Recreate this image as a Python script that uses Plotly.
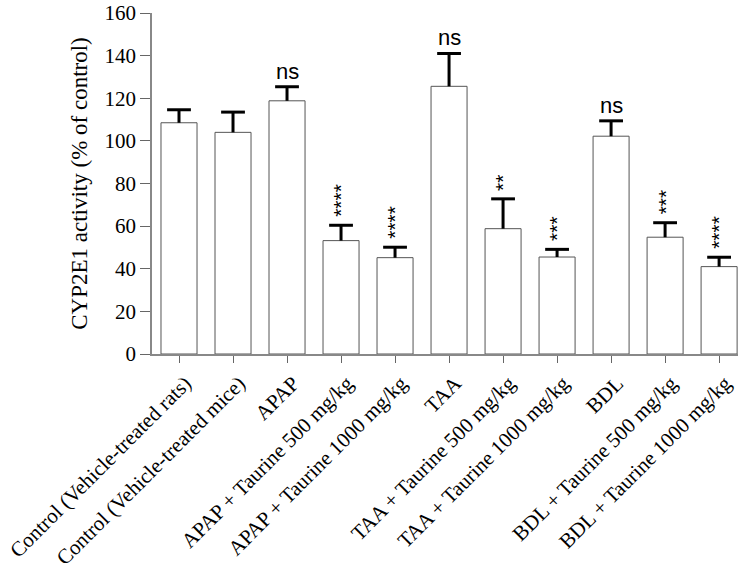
import plotly.graph_objects as go

categories = [
    "Control (Vehicle-treated rats)",
    "Control (Vehicle-treated mice)",
    "APAP",
    "APAP + Taurine 500 mg/kg",
    "APAP + Taurine 1000 mg/kg",
    "TAA",
    "TAA + Taurine 500 mg/kg",
    "TAA + Taurine 1000 mg/kg",
    "BDL",
    "BDL + Taurine 500 mg/kg",
    "BDL + Taurine 1000 mg/kg",
]
values = [108.5, 104.0, 118.8, 53.2, 45.2, 125.6, 58.8, 45.5, 102.2, 54.8, 41.0]
errors = [6.1, 9.5, 6.6, 7.2, 4.9, 15.4, 14.0, 3.6, 7.2, 6.8, 4.4]
signif = ["", "", "ns", "****", "****", "ns", "**", "***", "ns", "***", "****"]
yticks = [0, 20, 40, 60, 80, 100, 120, 140, 160]

idx = list(range(len(categories)))
tops = [v + e for v, e in zip(values, errors)]

fig = go.Figure()
fig.add_trace(go.Bar(
    x=idx, y=values, width=0.667,
    marker=dict(color="white", line=dict(color="#555555", width=1)),
    showlegend=False, hoverinfo="skip",
))
# vertical stems (upper only)
fig.add_trace(go.Scatter(
    x=idx, y=values, mode="markers",
    marker=dict(size=1, color="rgba(0,0,0,0)"),
    error_y=dict(type="data", symmetric=False, array=errors,
                 arrayminus=[0] * len(errors), width=0, thickness=3,
                 color="black"),
    showlegend=False, hoverinfo="skip",
))
# caps
fig.add_trace(go.Scatter(
    x=idx, y=tops, mode="markers",
    marker=dict(symbol="line-ew", size=17, line=dict(width=3, color="black"),
                color="black"),
    showlegend=False, hoverinfo="skip",
))

for i, (t, s) in enumerate(zip(tops, signif)):
    if not s:
        continue
    if s == "ns":
        fig.add_annotation(x=i, y=t, text=s, showarrow=False,
                           yanchor="bottom", yshift=1,
                           font=dict(family="Liberation Sans", size=22, color="black"))
    else:
        fig.add_annotation(x=i, y=t, text=s, showarrow=False,
                           textangle=-90, yanchor="bottom", yshift=6,
                           font=dict(family="Liberation Sans", size=21, color="black"))

fig.update_layout(
    width=750, height=563,
    margin=dict(l=152, r=12, t=13, b=209, autoexpand=False),
    paper_bgcolor="white", plot_bgcolor="white",
    font=dict(family="Liberation Serif", size=20, color="black"),
)
fig.update_xaxes(
    range=[-0.5, 10.35], tickmode="array", tickvals=idx, ticktext=categories,
    tickangle=-45, ticks="outside", ticklen=7, tickcolor="#666666",
    ticklabelshift=6, ticklabeloverflow="allow",
    showline=True, linecolor="#888888", linewidth=1.5,
    showgrid=False, zeroline=False, automargin=False,
    tickfont=dict(family="Liberation Serif", size=21, color="black"),
)
fig.update_yaxes(
    range=[0, 160], tickmode="array", tickvals=yticks,
    ticks="outside", ticklen=10, tickcolor="#666666",
    ticklabeloverflow="allow",
    showline=True, linecolor="#888888", linewidth=1.5,
    showgrid=False, zeroline=False, automargin=False,
    tickfont=dict(family="Liberation Serif", size=21, color="black"),
    title=dict(text="CYP2E1 activity (% of control)", standoff=10,
               font=dict(family="Liberation Serif", size=23, color="black")),
)

fig.write_html("out.html", config={"displayModeBar": False},
               post_script="document.body.style.margin='0px';document.body.style.overflow='hidden';")
